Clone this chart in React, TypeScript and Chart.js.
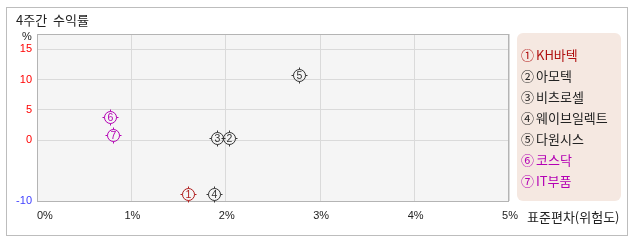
import React, { useEffect, useRef } from "react";
import { Chart, registerables } from "chart.js";

Chart.register(...registerables);

const names = ["KH바텍", "아모텍", "비츠로셀", "웨이브일렉트", "다원시스", "코스닥", "IT부품"];
const circled = ["①", "②", "③", "④", "⑤", "⑥", "⑦"];
const riskX = [1.6, 2.03, 1.91, 1.87, 2.78, 0.77, 0.81];
const returnY = [-8.8, 0.3, 0.3, -8.8, 10.8, 3.8, 0.8];
const xTicks = [0, 1, 2, 3, 4, 5];
const yTicks = [-10, 0, 5, 10, 15];
const markColors = ["#b01c1c", "#333333", "#333333", "#333333", "#333333", "#b400b4", "#b400b4"];
const legendColors = ["#b01010", "#222222", "#222222", "#222222", "#222222", "#b400b4", "#b400b4"];

const FONT = "'Liberation Sans', 'Noto Sans CJK KR', sans-serif";
const KFONT = "'Noto Sans CJK KR', sans-serif";

const customPlugin = {
  id: "custom",
  beforeDraw(chart: any) {
    const { ctx, chartArea: a } = chart;
    ctx.save();
    ctx.fillStyle = "#f5f5f5";
    ctx.fillRect(a.left, a.top, a.right - a.left, a.bottom - a.top);
    ctx.restore();
  },
  beforeDatasetsDraw(chart: any) {
    const { ctx, chartArea: a } = chart;
    ctx.save();
    ctx.strokeStyle = "#b4b4b4";
    ctx.lineWidth = 1;
    ctx.strokeRect(a.left + 0.5, a.top + 0.5, a.right - a.left - 1, a.bottom - a.top);
    ctx.restore();
    const xs = chart.scales.x;
    ctx.save();
    ctx.font = "11px " + FONT;
    ctx.fillStyle = "#222";
    ctx.textBaseline = "middle";
    xTicks.forEach((v, i) => {
      const px = xs.getPixelForValue(v);
      ctx.textAlign = i === 0 ? "left" : "center";
      ctx.fillText(v + "%", i === 0 ? px : px + 1, 216);
    });
    ctx.restore();
  },
  afterDatasetsDraw(chart: any) {
    const { ctx } = chart;
    chart.data.datasets.forEach((ds: any, i: number) => {
      const meta = chart.getDatasetMeta(i);
      const el = meta.data[0];
      if (!el) return;
      const x = Math.round(el.x) + 0.5;
      const y = Math.round(el.y) + 0.5;
      const c = markColors[i];
      ctx.save();
      ctx.strokeStyle = c;
      ctx.lineWidth = 1;
      ctx.beginPath();
      ctx.arc(x, y, 6, 0, Math.PI * 2);
      ctx.stroke();
      ctx.beginPath();
      ctx.moveTo(x, y - 8); ctx.lineTo(x, y - 6);
      ctx.moveTo(x, y + 6); ctx.lineTo(x, y + 8);
      ctx.moveTo(x - 8, y); ctx.lineTo(x - 6, y);
      ctx.moveTo(x + 6, y); ctx.lineTo(x + 8, y);
      ctx.stroke();
      ctx.fillStyle = c;
      ctx.font = "10.5px " + FONT;
      ctx.textAlign = "center";
      ctx.textBaseline = "middle";
      ctx.fillText(String(i + 1), x, y + 0.5);
      ctx.restore();
    });
    ctx.save();
    ctx.fillStyle = "#f5e8e1";
    ctx.beginPath();
    (ctx as any).roundRect(517, 33, 104, 168, 6);
    ctx.fill();
    ctx.font = "13px " + KFONT;
    ctx.textAlign = "left";
    ctx.textBaseline = "middle";
    chart.data.datasets.forEach((ds: any, i: number) => {
      ctx.fillStyle = legendColors[i];
      ctx.fillText(circled[i], 521, 55 + i * 21);
      ctx.fillText(names[i], 536, 55 + i * 21);
    });
    ctx.restore();
  },
};

export default function App() {
  const ref = useRef<HTMLCanvasElement>(null);
  useEffect(() => {
    document.body.style.margin = "0";
    const chart = new Chart(ref.current as HTMLCanvasElement, {
      type: "scatter",
      data: {
        datasets: names.map((n, i) => ({
          label: circled[i] + n,
          data: [{ x: riskX[i], y: returnY[i] }],
          pointRadius: 0,
          pointHoverRadius: 0,
        })),
      },
      options: {
        animation: false,
        responsive: false,
        events: [],
        layout: { padding: { left: 0, top: 34, right: 129, bottom: 0 } },
        plugins: { legend: { display: false }, tooltip: { enabled: false } },
        scales: {
          x: {
            type: "linear",
            min: 0,
            max: 5,
            afterBuildTicks: (s: any) => {
              s.ticks = xTicks.map((v) => ({ value: v }));
            },
            afterFit: (s: any) => {
              s.height = 41;
            },
            ticks: { display: false },
            grid: { color: "#dadada", drawTicks: false },
            border: { display: false },
          },
          y: {
            type: "linear",
            min: -10,
            max: 17.5,
            afterBuildTicks: (s: any) => {
              s.ticks = yTicks.map((v) => ({ value: v }));
            },
            afterFit: (s: any) => {
              s.width = 37;
            },
            ticks: {
              padding: 5,
              font: { size: 11, family: FONT },
              color: (c: any) => (c.tick && c.tick.value < 0 ? "#4040ff" : "#ff0000"),
            },
            grid: { color: "#dadada", drawTicks: false },
            border: { display: false },
          },
        },
      },
      plugins: [customPlugin],
    });
    return () => chart.destroy();
  }, []);
  return (
    <div style={{ position: "relative", width: 638, height: 242, background: "#fff", overflow: "hidden" }}>
      <div
        style={{
          position: "absolute",
          left: 6,
          top: 7,
          width: 620,
          height: 227,
          border: "1px solid #bdbdbd",
          boxSizing: "content-box",
        }}
      />
      <canvas ref={ref} width={638} height={242} style={{ position: "absolute", left: 0, top: 0 }} />
      <span
        style={{
          position: "absolute",
          left: 16,
          top: 12,
          font: "13px " + KFONT,
          color: "#222",
          lineHeight: "16px",
          whiteSpace: "pre",
        }}
      >
        4주간  수익률
      </span>
      <span
        style={{
          position: "absolute",
          left: 22,
          top: 29,
          font: "11px " + FONT,
          color: "#222",
          lineHeight: "14px",
        }}
      >
        %
      </span>
      <span
        style={{
          position: "absolute",
          left: 527,
          top: 208,
          font: "13px " + KFONT,
          color: "#222",
          lineHeight: "18px",
          whiteSpace: "nowrap",
        }}
      >
        표준편차(위험도)
      </span>
    </div>
  );
}
